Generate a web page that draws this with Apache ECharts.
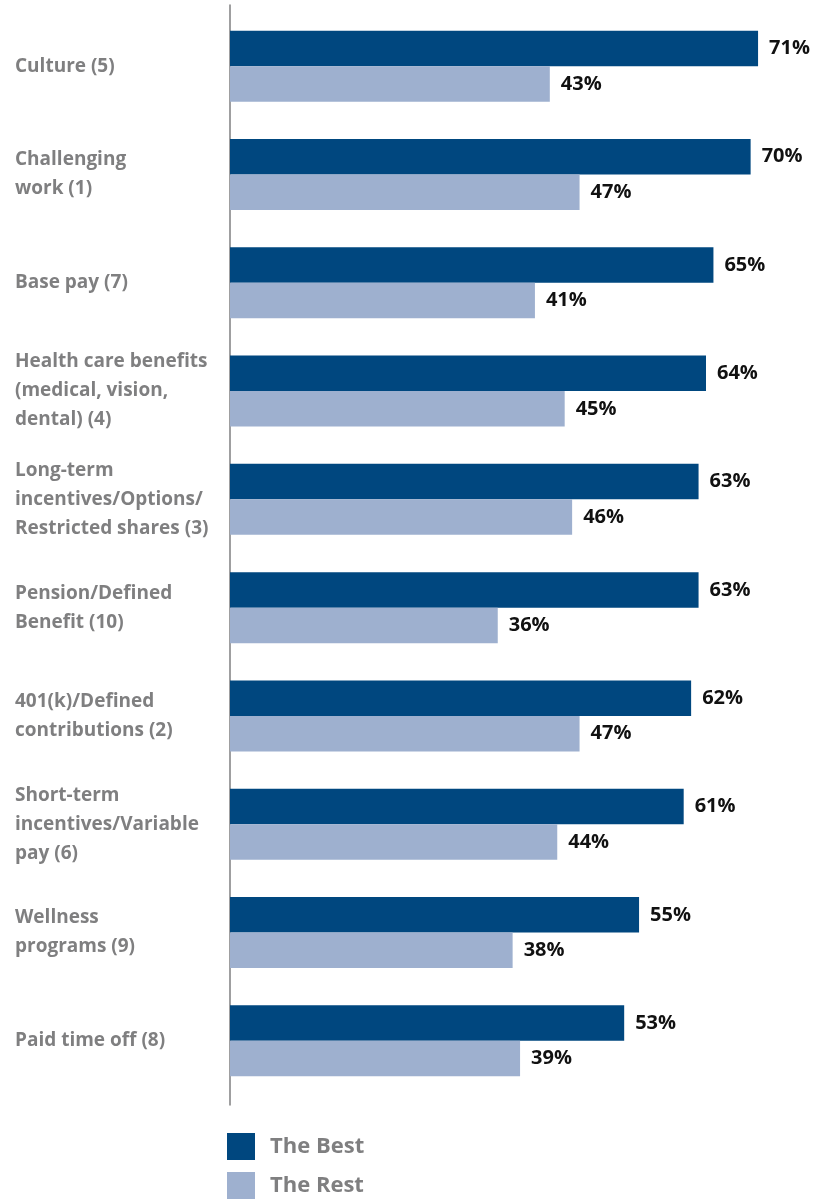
<!DOCTYPE html>
<html>
<head>
<meta charset="utf-8">
<script src="https://cdn.jsdelivr.net/npm/echarts@6/dist/echarts.min.js"></script>
<style>
  html, body { margin: 0; padding: 0; background: #fff; }
  #chart { width: 828px; height: 1199px; }
</style>
</head>
<body>
<div id="chart"></div>
<script>
// Reward elements ranked by share of respondents
const categories = [
  'Culture (5)',
  'Challenging\nwork (1)',
  'Base pay (7)',
  'Health care benefits\n(medical, vision,\ndental) (4)',
  'Long-term\nincentives/Options/\nRestricted shares (3)',
  'Pension/Defined\nBenefit (10)',
  '401(k)/Defined\ncontributions (2)',
  'Short-term\nincentives/Variable\npay (6)',
  'Wellness\nprograms (9)',
  'Paid time off (8)'
];
const bestValues = [71, 70, 65, 64, 63, 63, 62, 61, 55, 53];
const restValues = [43, 47, 41, 45, 46, 36, 47, 44, 38, 39];
const seriesNames = ['The Best', 'The Rest'];

const DARK = '#00477f';
const LIGHT = '#9eb0cf';
const GREY = '#7f7f80';
const FONT = 'Open Sans';

const chart = echarts.init(document.getElementById('chart'), null, { renderer: 'canvas' });

const valueLabel = {
  show: true,
  position: 'right',
  distance: 11,
  formatter: '{c}%',
  color: '#111',
  fontFamily: FONT,
  fontWeight: 'bold',
  fontSize: 20
};

chart.setOption({
  animation: false,
  grid: [
    { left: 230, right: 3, top: 12, bottom: 104 },
    // taller companion grid that only carries the vertical baseline
    { left: 230, right: 3, top: 5, bottom: 94 }
  ],
  xAxis: [
    { type: 'value', gridIndex: 0, min: 0, max: 80, show: false },
    { type: 'value', gridIndex: 1, min: 0, max: 1, show: false }
  ],
  yAxis: [
    {
      type: 'category',
      gridIndex: 0,
      inverse: true,
      data: categories,
      axisLine: { show: false },
      axisTick: { show: false },
      axisLabel: {
        align: 'left',
        margin: 215,
        color: GREY,
        fontFamily: FONT,
        fontWeight: 'bold',
        fontSize: 19,
        lineHeight: 29,
        padding: [4, 0, 0, 0]
      }
    },
    {
      type: 'value',
      gridIndex: 1,
      min: 0,
      max: 1,
      axisLine: { show: true, lineStyle: { color: GREY, width: 1.5 } },
      axisTick: { show: false },
      axisLabel: { show: false },
      splitLine: { show: false }
    }
  ],
  legend: {
    orient: 'vertical',
    left: 227,
    top: 1133,
    padding: 0,
    height: 70,
    itemWidth: 28,
    itemHeight: 27,
    itemGap: 12,
    icon: 'rect',
    data: seriesNames,
    textStyle: {
      color: GREY,
      fontFamily: FONT,
      fontWeight: 'bold',
      fontSize: 22,
      padding: [0, 0, 0, 10]
    }
  },
  series: [
    {
      name: seriesNames[0],
      type: 'bar',
      xAxisIndex: 0,
      yAxisIndex: 0,
      data: bestValues,
      barWidth: 35.5,
      barGap: '0%',
      itemStyle: { color: DARK },
      label: valueLabel
    },
    {
      name: seriesNames[1],
      type: 'bar',
      xAxisIndex: 0,
      yAxisIndex: 0,
      data: restValues,
      barWidth: 35.5,
      barGap: '0%',
      itemStyle: { color: LIGHT },
      label: valueLabel
    }
  ]
});
</script>
</body>
</html>
